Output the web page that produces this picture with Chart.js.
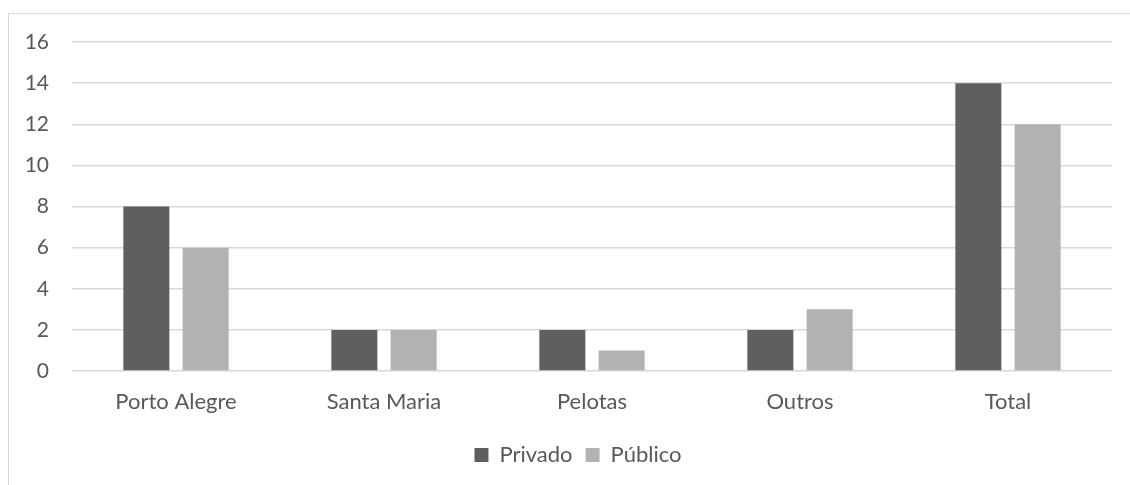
<!DOCTYPE html>
<html>
<head>
<meta charset="utf-8">
<script src="https://cdn.jsdelivr.net/npm/chart.js@4"></script>
<style>
  html, body { margin: 0; padding: 0; background: #fff; }
  #wrap { position: relative; width: 1130px; height: 485px; overflow: hidden; }
  #frame { position: absolute; left: 8px; top: 13px; width: 1130px; height: 490px; border: 1px solid #d9d9d9; box-sizing: border-box; }
  #c { position: absolute; left: 0; top: 0; }
</style>
</head>
<body>
<div id="wrap">
  <div id="frame"></div>
  <canvas id="c" width="1130" height="485"></canvas>
</div>
<script>
const categories = ["Porto Alegre", "Santa Maria", "Pelotas", "Outros", "Total"];
const privado = [8, 2, 2, 2, 14];
const publico = [6, 2, 1, 3, 12];
const yMax = 16;
const yStep = 2;

const FONT = "Lato, 'Open Sans', sans-serif";
const TEXT = "#595959";

// Shift the legend so it is centred like the reference (centre of the whole frame)
const legendShift = {
  id: "legendShift",
  afterLayout(chart) {
    const lg = chart.legend;
    if (lg) { lg.left += 22; lg.right += 22; }
  }
};

new Chart(document.getElementById("c"), {
  type: "bar",
  data: {
    labels: categories,
    datasets: [
      { label: "Privado", data: privado, backgroundColor: "#5f5f5f", borderWidth: 0,
        categoryPercentage: 0.57, barPercentage: 0.776 },
      { label: "Público", data: publico, backgroundColor: "#b2b2b2", borderWidth: 0,
        categoryPercentage: 0.57, barPercentage: 0.776 }
    ]
  },
  plugins: [legendShift],
  options: {
    responsive: false,
    animation: false,
    layout: { padding: { left: 0, right: 18, top: 42, bottom: 9 } },
    plugins: {
      tooltip: { enabled: false },
      legend: {
        position: "bottom",
        labels: {
          font: { family: FONT, size: 22 },
          color: TEXT,
          boxWidth: 14,
          boxHeight: 14,
          padding: 13
        }
      }
    },
    scales: {
      x: {
        grid: { display: false, drawTicks: false },
        border: { display: false },
        ticks: { font: { family: FONT, size: 22 }, color: TEXT, padding: 18 },
        afterFit: (s) => { s.height = 60; }
      },
      y: {
        min: 0, max: yMax,
        grid: { color: "#d9d9d9", lineWidth: 1.5, drawTicks: false },
        border: { display: false },
        ticks: { stepSize: yStep, font: { family: FONT, size: 21 }, color: TEXT, padding: 23 },
        afterFit: (s) => { s.width = 72; }
      }
    }
  }
});
</script>
</body>
</html>
